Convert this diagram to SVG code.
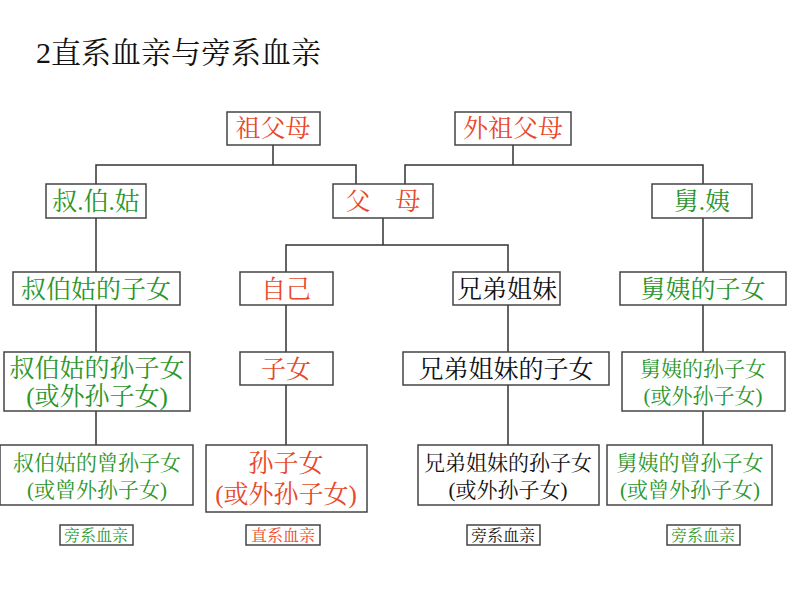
<svg xmlns="http://www.w3.org/2000/svg" width="800" height="600" viewBox="0 0 800 600">
<style>
rect{fill:#fff;stroke:#444;stroke-width:1.5}
text{font-family:"Liberation Serif","Noto Serif CJK SC","Noto Sans CJK SC",serif;text-anchor:middle}
.r{fill:#e8472a}.g{fill:#2a962a}.k{fill:#111}
.f22{font-size:25px}.f19{font-size:21px}.f18{font-size:21px}.f14{font-size:16px}
#conn path{fill:none;stroke:#333;stroke-width:1.5}
</style>
<rect width="800" height="600" style="stroke:none"/>
<text x="36" y="63" style="text-anchor:start;font-size:30px" class="k">2直系血亲与旁系血亲</text>
<g id="conn">
<path d="M273 145V165M96 184V165H356V184"/>
<path d="M513 145V165M405 184V165H703V184"/>
<path d="M383 218V245M286 272V245H508V272"/>
<path d="M96 218V272M703 218V272"/>
<path d="M96 305V352M286 305V352M508 305V352M703 305V352"/>
<path d="M96 411V445M286 385V445M508 385V445M703 411V445"/>
</g>
<g id="n1"><rect x="227" y="112" width="93" height="33"/><text x="273" y="137" class="r f22">祖父母</text></g>
<g id="n2"><rect x="455" y="112" width="116" height="33"/><text x="513" y="137" class="r f22">外祖父母</text></g>
<g id="n3"><rect x="46" y="184" width="100" height="34"/><text x="96" y="210" class="g f22">叔.伯.姑</text></g>
<g id="n4"><rect x="333" y="184" width="100" height="34"/><text x="383" y="210" class="r f22">父　母</text></g>
<g id="n5"><rect x="652" y="184" width="100" height="34"/><text x="702" y="210" class="g f22">舅.姨</text></g>
<g id="n6"><rect x="13" y="272" width="167" height="33"/><text x="96" y="298" class="g f22">叔伯姑的子女</text></g>
<g id="n7"><rect x="240" y="272" width="93" height="33"/><text x="286" y="298" class="r f22">自己</text></g>
<g id="n8"><rect x="453" y="272" width="107" height="33"/><text x="507" y="298" class="k f22">兄弟姐妹</text></g>
<g id="n9"><rect x="620" y="272" width="166" height="33"/><text x="703" y="298" class="g f22">舅姨的子女</text></g>
<g id="n10"><rect x="4" y="352" width="186" height="59"/><text x="97" y="377" class="g f22">叔伯姑的孙子女</text><text x="97" y="405" class="g f22">(或外孙子女)</text></g>
<g id="n11"><rect x="240" y="352" width="93" height="33"/><text x="286" y="378" class="r f22">子女</text></g>
<g id="n12"><rect x="403" y="352" width="206" height="33"/><text x="506" y="378" class="k f22">兄弟姐妹的子女</text></g>
<g id="n13"><rect x="622" y="352" width="163" height="59"/><text x="703" y="376" class="g f19">舅姨的孙子女</text><text x="703" y="403" class="g f19">(或外孙子女)</text></g>
<g id="n14"><rect x="0" y="445" width="193" height="60"/><text x="97" y="470" class="g f19">叔伯姑的曾孙子女</text><text x="97" y="497" class="g f19">(或曾外孙子女)</text></g>
<g id="n15"><rect x="206" y="445" width="161" height="67"/><text x="286" y="472" class="r f22">孙子女</text><text x="286" y="503" class="r f22">(或外孙子女)</text></g>
<g id="n16"><rect x="418" y="445" width="181" height="60"/><text x="508" y="470" class="k f18">兄弟姐妹的孙子女</text><text x="508" y="497" class="k f18">(或外孙子女)</text></g>
<g id="n17"><rect x="607" y="445" width="165" height="60"/><text x="690" y="470" class="g f19">舅姨的曾孙子女</text><text x="690" y="497" class="g f19">(或曾外孙子女)</text></g>
<g id="l1"><rect x="60" y="525" width="73" height="20"/><text x="96" y="541" class="g f14">旁系血亲</text></g>
<g id="l2"><rect x="246" y="525" width="74" height="20"/><text x="283" y="541" class="r f14">直系血亲</text></g>
<g id="l3"><rect x="467" y="525" width="73" height="20"/><text x="503" y="541" class="k f14">旁系血亲</text></g>
<g id="l4"><rect x="667" y="525" width="73" height="20"/><text x="703" y="541" class="g f14">旁系血亲</text></g>
</svg>
